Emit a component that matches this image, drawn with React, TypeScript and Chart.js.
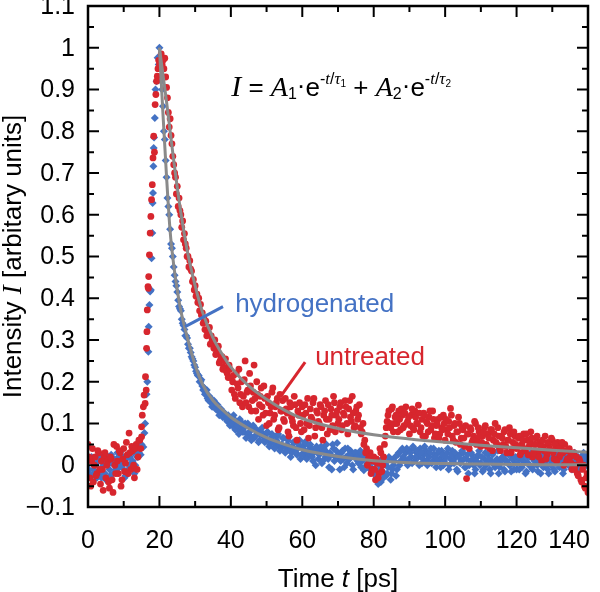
import React, { useEffect, useRef } from "react";
import { Chart, registerables } from "chart.js";
Chart.register(...registerables);

// ---------- data ----------
const STEP = 0.5; // spacing inside each sampled block [ps]

const X_TICKS = [0, 20, 40, 60, 80, 100, 120, 140];
const X_MINOR = [10, 30, 50, 70, 90, 110, 130];
const Y_TICKS = [-0.1, 0, 0.1, 0.2, 0.3, 0.4, 0.5, 0.6, 0.7, 0.8, 0.9, 1, 1.1];
const Y_LABELS = ["−0.1", "0", "0.1", "0.2", "0.3", "0.4", "0.5", "0.6", "0.7", "0.8", "0.9", "1", "1.1"];
const Y_MINOR = [-0.05, 0.05, 0.15, 0.25, 0.35, 0.45, 0.55, 0.65, 0.75, 0.85, 0.95, 1.05];

// ===== hydrogenated (blue) =====
const blueBaseStart = 0;
const blueBase = [
  0.01, -0.02, 0.02, -0.01, 0.0, -0.03, 0.01, -0.02, 0.015, 0.02,
  -0.035, 0.0, -0.01, 0.025, -0.02, 0.005, -0.015, 0.02, 0.03, -0.005,
  0.01, -0.025, 0.025, 0.0, 0.03, 0.01, -0.02, 0.035, 0.02, 0.04,
  0.05,
];
const blueBaseBStart = 0.25;
const blueBaseB = [
  -0.01, 0.015, -0.025, 0.005, 0.02, -0.015, 0.025, -0.03, 0.0, -0.02,
  0.01, 0.02, -0.025, 0.005, 0.015, -0.01, 0.03, -0.005, 0.0, 0.02,
  -0.03, 0.015, -0.01, 0.02, 0.005, 0.03, 0.0, 0.02, 0.03, 0.025,
];
const blueRiseT = [15.5, 15.8, 16.0, 16.4, 16.6, 16.9, 17.0, 17.2, 17.4, 17.6, 17.8, 18.0, 18.1, 18.2, 18.3, 18.4, 18.5, 18.7, 18.9, 19.2, 19.5, 19.8, 20.0];
const blueRiseI = [0.044, 0.077, 0.1, 0.17, 0.2, 0.272, 0.332, 0.384, 0.416, 0.42, 0.496, 0.556, 0.628, 0.652, 0.716, 0.76, 0.785, 0.832, 0.9, 0.92, 0.976, 0.96, 1.0];
const blueDecayStart = 20.5;
const blueDecay = [
  0.92, 0.86, 0.78, 0.69, 0.62, 0.565, 0.52, 0.475, 0.44, 0.415,
  0.38, 0.37, 0.34, 0.325, 0.31, 0.29, 0.28, 0.26, 0.25, 0.235,
  0.22, 0.215, 0.2, 0.19, 0.185, 0.175, 0.16, 0.165, 0.15, 0.145,
  0.15, 0.135, 0.13, 0.125, 0.13, 0.12, 0.115, 0.105, 0.11, 0.1,
];
const blueDecayBStart = 20.75;
const blueDecayB = [
  0.9, 0.8, 0.73, 0.64, 0.6, 0.53, 0.5, 0.455, 0.43, 0.395,
  0.375, 0.35, 0.335, 0.31, 0.305, 0.28, 0.27, 0.255, 0.24, 0.225,
  0.215, 0.2, 0.205, 0.18, 0.17, 0.18, 0.155, 0.16, 0.14, 0.155,
  0.135, 0.145, 0.12, 0.135, 0.115, 0.125, 0.11, 0.12, 0.095,
];
const blueTail1Start = 40.5;
const blueTail1 = [
  0.115, 0.09, 0.105, 0.085, 0.11, 0.09, 0.08, 0.1, 0.075, 0.095, 0.07, 0.09, 0.065, 0.085, 0.075, 0.06, 0.08, 0.07, 0.055, 0.075,
  0.06, 0.05, 0.075, 0.055, 0.045, 0.07, 0.05, 0.04, 0.065, 0.045, 0.035, 0.06, 0.04, 0.03, 0.055, 0.035, 0.025, 0.05, 0.015, 0.045,
  0.03, 0.02, 0.05, 0.025, 0.04, 0.01, 0.035, 0.045, 0.015, 0.03, 0.005, 0.04, 0.02, 0.03, -0.005, 0.025, 0.05, 0.01, 0.035, 0.02,
  -0.01, 0.03, 0.015, 0.04, 0.005, 0.025, 0.035, 0.0, 0.02, 0.03, 0.01, 0.025, -0.005, 0.02, 0.03, 0.0, 0.015, -0.01, 0.02, -0.02,
];
const blueTail1BStart = 40.25;
const blueTail1B = [
  0.1, 0.12, 0.085, 0.095, 0.075, 0.105, 0.08, 0.09, 0.065, 0.1, 0.08, 0.06, 0.095, 0.07, 0.085, 0.055, 0.075, 0.09, 0.06, 0.065,
  0.08, 0.045, 0.065, 0.07, 0.04, 0.06, 0.075, 0.035, 0.05, 0.065, 0.03, 0.05, 0.068, 0.02, 0.045, 0.055, 0.03, 0.04, 0.06, 0.025,
  0.04, 0.055, 0.015, 0.035, 0.05, 0.02, 0.03, 0.0, 0.04, 0.025, 0.045, 0.01, 0.035, 0.05, 0.015, 0.03, -0.01, 0.04, 0.02, 0.053,
  0.025, 0.01, 0.035, -0.005, 0.02, 0.04, 0.015, 0.025, -0.01, 0.03, 0.02, 0.005, 0.035, 0.01, -0.012, 0.025, 0.005, 0.02, -0.005, 0.01,
];
const blueTail2Start = 80.5;
const blueTail2 = [
  0.005, -0.03, 0.0, -0.04, -0.015, 0.01, -0.025, -0.005, 0.015, -0.02, 0.0, 0.02, -0.01, 0.03, 0.01, 0.04, 0.015, 0.03, 0.0, 0.035,
  0.02, 0.045, 0.01, 0.03, 0.02, 0.04, 0.005, 0.025, 0.035, 0.0, 0.02, 0.04, 0.01, 0.025, -0.005, 0.03, 0.015, 0.035, 0.0, 0.02,
  0.03, -0.01, 0.015, 0.035, 0.005, 0.02, -0.015, 0.025, 0.01, 0.03, -0.005, 0.015, -0.02, 0.01, 0.025, 0.0, -0.01, 0.02, 0.035, 0.005,
  -0.015, 0.015, 0.0, 0.025, -0.01, 0.01, 0.03, -0.005, 0.015, -0.02, 0.005, 0.02, -0.01, 0.01, 0.03, 0.0, -0.015, 0.02, 0.005, -0.01,
  0.015, 0.025, -0.005, 0.01, -0.02, 0.02, 0.0, 0.03, -0.01, 0.01, 0.02, -0.015, 0.005, 0.025, -0.005, 0.015, 0.0, -0.02, 0.01, 0.02,
  -0.01, 0.005, 0.025, -0.005, 0.015, -0.02, 0.01, 0.02, 0.0, 0.015, -0.01, 0.025, 0.005, 0.015, -0.005, 0.02, 0.01, 0.025, 0.0, 0.015,
];
const blueTail2BStart = 80.25;
const blueTail2B = [
  -0.02, 0.01, -0.045, -0.01, 0.015, -0.03, 0.005, -0.02, 0.02, -0.035, -0.01, 0.01, -0.025, 0.025, 0.0, 0.035, 0.02, 0.01, 0.04, 0.015,
  0.03, 0.005, 0.04, 0.02, 0.035, 0.0, 0.03, 0.015, 0.045, 0.01, 0.025, 0.03, 0.005, 0.04, 0.02, 0.01, 0.035, -0.005, 0.025, 0.01,
  0.02, 0.04, 0.0, 0.025, 0.01, 0.03, -0.01, 0.02, 0.005, 0.035, 0.015, -0.005, 0.025, 0.0, 0.03, 0.015, -0.02, 0.01, 0.025, 0.0,
  0.02, -0.01, 0.03, 0.005, 0.015, -0.02, 0.025, 0.0, 0.01, 0.035, -0.005, 0.015, 0.02, -0.015, 0.01, 0.025, 0.0, 0.015, -0.01, 0.02,
  0.005, -0.01, 0.02, 0.01, 0.03, -0.015, 0.005, 0.02, -0.005, 0.015, 0.025, 0.0, 0.01, -0.02, 0.02, 0.005, 0.03, -0.01, 0.015, 0.0,
  0.02, -0.015, 0.01, 0.03, 0.0, 0.015, -0.01, 0.025, 0.005, 0.02, -0.005, 0.01, 0.03, 0.0, 0.02, -0.01, 0.015, 0.03, 0.005, 0.02,
];

// ===== untreated (red) =====
const redBaseStart = 0;
const redBase = [
  0.05, -0.03, 0.01, -0.04, 0.02, -0.02, 0.03, -0.045, -0.01, 0.02,
  -0.03, 0.01, -0.055, 0.015, -0.065, 0.0, 0.045, -0.02, 0.03, -0.035,
  0.04, 0.005, 0.025, 0.077, -0.01, 0.035, -0.03, 0.05, 0.02, 0.06,
  0.068,
];
const redBaseBStart = 0.25;
const redBaseB = [
  0.02, -0.05, 0.04, 0.0, -0.025, 0.035, -0.01, 0.01, -0.06, 0.03,
  0.0, -0.04, 0.02, -0.035, 0.05, -0.02, 0.01, 0.035, -0.05, 0.015,
  -0.015, 0.055, -0.02, 0.03, 0.045, 0.0, 0.04, -0.01, 0.06, 0.04,
];
const redRiseT = [15.0, 15.2, 15.5, 15.7, 16.0, 16.1, 16.3, 16.4, 16.5, 16.6, 16.8, 16.9, 17.0, 17.2, 17.4, 17.6, 17.8, 18.0, 18.2, 18.4, 18.6, 18.8, 19.0, 19.2, 19.4, 19.6, 19.8, 20.0];
const redRiseI = [0.092, 0.12, 0.14, 0.168, 0.148, 0.212, 0.18, 0.28, 0.32, 0.372, 0.428, 0.424, 0.452, 0.504, 0.556, 0.596, 0.636, 0.672, 0.736, 0.788, 0.75, 0.864, 0.888, 0.92, 0.932, 0.95, 0.97, 0.96];
const redDecayStart = 20.5;
const redDecay = [
  0.985, 0.97, 0.975, 0.905, 0.845, 0.83, 0.77, 0.72, 0.69, 0.668,
  0.64, 0.6, 0.585, 0.555, 0.52, 0.5, 0.49, 0.465, 0.445, 0.43,
  0.41, 0.4, 0.385, 0.365, 0.35, 0.345, 0.32, 0.33, 0.31, 0.29,
  0.3, 0.27, 0.285, 0.25, 0.26, 0.235, 0.255, 0.22, 0.24, 0.21,
];
const redDecayBStart = 20.75;
const redDecayB = [
  0.96, 0.95, 0.93, 0.88, 0.81, 0.79, 0.74, 0.7, 0.65, 0.62,
  0.61, 0.57, 0.54, 0.53, 0.5, 0.475, 0.47, 0.44, 0.42, 0.405,
  0.39, 0.37, 0.36, 0.34, 0.325, 0.31, 0.315, 0.29, 0.3, 0.28,
  0.265, 0.275, 0.245, 0.26, 0.23, 0.25, 0.225, 0.21, 0.23,
];
const redTail1Start = 40.5;
const redTail1 = [
  0.2, 0.17, 0.22, 0.185, 0.15, 0.2, 0.165, 0.25, 0.175, 0.14, 0.19, 0.155, 0.24, 0.13, 0.17, 0.145, 0.185, 0.12, 0.16, 0.095,
  0.15, 0.125, 0.175, 0.11, 0.14, 0.16, 0.09, 0.13, 0.155, 0.105, 0.135, 0.08, 0.15, 0.115, 0.095, 0.145, 0.06, 0.12, 0.1, 0.14,
  0.085, 0.125, 0.16, 0.095, 0.115, 0.15, 0.07, 0.13, 0.105, 0.145, 0.09, 0.12, 0.155, 0.075, 0.11, 0.135, 0.095, 0.15, 0.12, 0.1,
  0.14, 0.085, 0.125, 0.155, 0.1, 0.135, 0.115, 0.165, 0.09, 0.13, 0.11, 0.145, 0.075, 0.1, 0.06, 0.04, 0.015, 0.03, -0.01, 0.02,
];
const redTail1BStart = 40.25;
const redTail1B = [
  0.18, 0.215, 0.16, 0.195, 0.23, 0.17, 0.14, 0.205, 0.15, 0.18, 0.22, 0.13, 0.175, 0.16, 0.2, 0.11, 0.165, 0.14, 0.19, 0.125,
  0.165, 0.1, 0.14, 0.185, 0.12, 0.15, 0.085, 0.17, 0.13, 0.11, 0.16, 0.125, 0.07, 0.14, 0.105, 0.165, 0.09, 0.13, 0.15, 0.08,
  0.12, 0.145, 0.1, 0.065, 0.135, 0.11, 0.16, 0.09, 0.125, 0.1, 0.14, 0.06, 0.13, 0.11, 0.145, 0.085, 0.12, 0.165, 0.08, 0.13,
  0.11, 0.15, 0.095, 0.12, 0.14, 0.075, 0.155, 0.105, 0.125, 0.095, 0.14, 0.12, 0.09, 0.08, 0.05, 0.03, 0.0, 0.02, -0.02, 0.01,
];
const redTail2Start = 80.5;
const redTail2 = [
  -0.035, 0.005, -0.02, 0.03, 0.0, 0.05, 0.09, 0.12, 0.1, 0.135, 0.08, 0.115, 0.1, 0.13, 0.085, 0.12, 0.095, 0.14, 0.105, 0.075,
  0.12, 0.09, 0.13, 0.1, 0.144, 0.08, 0.11, 0.125, 0.07, 0.1, 0.115, 0.085, 0.13, 0.065, 0.095, 0.11, 0.075, 0.09, 0.12, 0.06,
  0.085, 0.105, 0.136, 0.07, 0.095, 0.055, 0.08, 0.1, 0.065, 0.085, 0.045, -0.032, 0.075, 0.09, 0.055, 0.07, 0.1, 0.06, 0.08, 0.045,
  0.07, 0.09, 0.05, 0.075, 0.04, 0.085, 0.06, 0.1, 0.05, 0.07, 0.035, 0.065, 0.08, 0.045, 0.06, 0.09, 0.03, 0.055, 0.07, 0.04,
  0.065, 0.025, 0.05, 0.075, 0.035, 0.06, 0.045, 0.08, 0.02, 0.05, 0.065, 0.03, 0.055, 0.01, 0.045, 0.07, 0.025, 0.05, 0.035, 0.06,
  0.015, 0.04, 0.055, 0.02, 0.045, 0.03, 0.05, 0.01, 0.035, 0.02, -0.01, 0.03, 0.0, -0.02, 0.015, -0.035, -0.01, -0.05, -0.03, -0.065,
];
const redTail2BStart = 80.25;
const redTail2B = [
  -0.01, 0.015, -0.03, 0.04, -0.015, 0.02, 0.07, 0.105, 0.13, 0.09, 0.14, 0.1, 0.12, 0.08, 0.11, 0.135, 0.09, 0.125, 0.1, 0.115,
  0.095, 0.135, 0.085, 0.115, 0.1, 0.125, 0.09, 0.07, 0.12, 0.105, 0.08, 0.13, 0.095, 0.11, 0.075, 0.1, 0.065, 0.115, 0.085, 0.1,
  0.11, 0.075, 0.09, 0.12, 0.06, 0.1, 0.08, 0.115, 0.05, 0.09, 0.065, 0.095, 0.075, 0.04, 0.085, 0.06, 0.105, 0.05, 0.09, 0.07,
  0.055, 0.08, 0.095, 0.045, 0.065, 0.085, 0.035, 0.075, 0.055, 0.09, 0.04, 0.07, 0.05, 0.085, 0.03, 0.06, 0.075, 0.04, 0.08, 0.05,
  0.045, 0.07, 0.03, 0.06, 0.04, 0.075, 0.025, 0.055, 0.065, 0.03, 0.05, 0.07, 0.02, 0.045, 0.06, 0.035, 0.015, 0.055, 0.04, 0.065,
  0.03, 0.05, 0.01, 0.04, 0.025, 0.055, 0.0, 0.035, 0.015, 0.04, 0.005, 0.025, -0.01, 0.02, -0.025, 0.01, -0.04, 0.0, -0.055, -0.02,
];

// bi-exponential fits (grey)
const fitT = [20, 21, 22, 23, 24, 25, 26, 28, 30, 32, 35, 38, 40, 45, 50, 55, 60, 70, 80, 90, 100, 110, 120, 130, 140];
const blueFit = [1.0, 0.84, 0.69, 0.56, 0.48, 0.42, 0.37, 0.3, 0.24, 0.195, 0.155, 0.13, 0.115, 0.088, 0.066, 0.05, 0.037, 0.021, 0.011, 0.006, 0.004, 0.003, 0.002, 0.001, 0.001];
const redFit = [1.0, 0.935, 0.87, 0.8, 0.73, 0.665, 0.605, 0.505, 0.43, 0.368, 0.305, 0.26, 0.235, 0.19, 0.158, 0.132, 0.112, 0.088, 0.073, 0.063, 0.055, 0.048, 0.042, 0.036, 0.031];

// ---------- styling ----------
const RED = "#D7262E";
const BLUE = "#4472C4";
const GREY = "#8A8A8A";
const SANS = '"Liberation Sans", Arial, Helvetica, sans-serif';
const SERIF = '"Liberation Serif", "Times New Roman", serif';

function seg(start: number, vals: number[]) {
  return vals.map((v, i) => ({ x: start + i * STEP, y: v }));
}
function pairs(ts: number[], vs: number[]) {
  return ts.map((t, i) => ({ x: t, y: vs[i] }));
}

type Run = { text: string; font: string; dy: number };

function runsWidth(ctx: CanvasRenderingContext2D, runs: Run[]) {
  let w = 0;
  for (const r of runs) {
    ctx.font = r.font;
    w += ctx.measureText(r.text).width;
  }
  return w;
}
function drawRuns(ctx: CanvasRenderingContext2D, runs: Run[], x: number, y: number) {
  let cx = x;
  for (const r of runs) {
    ctx.font = r.font;
    ctx.fillText(r.text, cx, y + r.dy);
    cx += ctx.measureText(r.text).width;
  }
}

const overlay = {
  id: "overlay",
  afterDatasetsDraw(chart: any) {
    const ctx: CanvasRenderingContext2D = chart.ctx;
    const { left, right, top, bottom } = chart.chartArea;
    const xs = chart.scales.x;
    const ys = chart.scales.y;
    ctx.save();
    ctx.strokeStyle = "#000";
    ctx.fillStyle = "#000";
    ctx.lineCap = "butt";

    // ticks (inward, on all four sides)
    ctx.lineWidth = 2;
    const MAJ = 11, MIN = 6;
    ctx.beginPath();
    for (const v of X_TICKS) {
      const p = xs.getPixelForValue(v);
      ctx.moveTo(p, bottom); ctx.lineTo(p, bottom - MAJ);
      ctx.moveTo(p, top); ctx.lineTo(p, top + MAJ);
    }
    for (const v of X_MINOR) {
      const p = xs.getPixelForValue(v);
      ctx.moveTo(p, bottom); ctx.lineTo(p, bottom - MIN);
      ctx.moveTo(p, top); ctx.lineTo(p, top + MIN);
    }
    for (const v of Y_TICKS) {
      const p = ys.getPixelForValue(v);
      ctx.moveTo(left, p); ctx.lineTo(left + MAJ, p);
      ctx.moveTo(right, p); ctx.lineTo(right - MAJ, p);
    }
    for (const v of Y_MINOR) {
      const p = ys.getPixelForValue(v);
      ctx.moveTo(left, p); ctx.lineTo(left + MIN, p);
      ctx.moveTo(right, p); ctx.lineTo(right - MIN, p);
    }
    ctx.stroke();

    // frame
    ctx.lineWidth = 2.5;
    ctx.strokeRect(left, top, right - left, bottom - top);

    // tick labels
    ctx.font = `25px ${SANS}`;
    ctx.textBaseline = "alphabetic";
    ctx.textAlign = "left";
    const W = chart.width;
    X_TICKS.forEach((v) => {
      const label = String(v);
      const w = ctx.measureText(label).width;
      let cx = xs.getPixelForValue(v);
      cx = Math.min(cx, W - 10 - w / 2);
      ctx.fillText(label, cx - w / 2, bottom + 41);
    });
    ctx.textAlign = "right";
    ctx.textBaseline = "middle";
    Y_TICKS.forEach((v, i) => {
      ctx.fillText(Y_LABELS[i], left - 13, ys.getPixelForValue(v) + 1);
    });

    // axis titles
    ctx.textAlign = "left";
    ctx.textBaseline = "alphabetic";
    const xTitle: Run[] = [
      { text: "Time ", font: `26px ${SANS}`, dy: 0 },
      { text: "t", font: `italic 26px ${SANS}`, dy: 0 },
      { text: " [ps]", font: `26px ${SANS}`, dy: 0 },
    ];
    const xw = runsWidth(ctx, xTitle);
    drawRuns(ctx, xTitle, (left + right) / 2 - xw / 2, bottom + 80);

    const yTitle: Run[] = [
      { text: "Intensity ", font: `26px ${SANS}`, dy: 0 },
      { text: "I", font: `italic 27px ${SERIF}`, dy: 0 },
      { text: " [arbitary units]", font: `26px ${SANS}`, dy: 0 },
    ];
    const yw = runsWidth(ctx, yTitle);
    ctx.save();
    ctx.translate(21, (top + bottom) / 2);
    ctx.rotate(-Math.PI / 2);
    drawRuns(ctx, yTitle, -yw / 2, 0);
    ctx.restore();

    // formula
    const big = `26px ${SANS}`;
    const ital = `italic 30px ${SERIF}`;
    const italA = `italic 28px ${SERIF}`;
    const sub = `16px ${SANS}`;
    const sup = `16px ${SANS}`;
    const supI = `italic 17px ${SERIF}`;
    const tiny = `10px ${SANS}`;
    const expo = (n: string): Run[] => [
      { text: "e", font: big, dy: 0 },
      { text: "-", font: sup, dy: -12 },
      { text: "t", font: supI, dy: -12 },
      { text: "/", font: sup, dy: -12 },
      { text: "τ", font: supI, dy: -12 },
      { text: n, font: tiny, dy: -9 },
    ];
    const formula: Run[] = [
      { text: "I", font: ital, dy: 0 },
      { text: " = ", font: big, dy: 0 },
      { text: "A", font: italA, dy: 0 },
      { text: "1", font: sub, dy: 3 },
      { text: "·", font: big, dy: -2 },
      ...expo("1"),
      { text: " + ", font: big, dy: 0 },
      { text: "A", font: italA, dy: 0 },
      { text: "2", font: sub, dy: 3 },
      { text: "·", font: big, dy: -2 },
      ...expo("2"),
    ];
    drawRuns(ctx, formula, xs.getPixelForValue(40.1), ys.getPixelForValue(0.884));

    // annotations with pointer lines
    ctx.lineWidth = 3;
    ctx.strokeStyle = BLUE;
    ctx.beginPath();
    ctx.moveTo(xs.getPixelForValue(27.2), ys.getPixelForValue(0.332));
    ctx.lineTo(xs.getPixelForValue(37.8), ys.getPixelForValue(0.38));
    ctx.stroke();
    ctx.fillStyle = BLUE;
    ctx.font = `26px ${SANS}`;
    ctx.fillText("hydrogenated", xs.getPixelForValue(41.2), ys.getPixelForValue(0.367));

    ctx.strokeStyle = RED;
    ctx.beginPath();
    ctx.moveTo(xs.getPixelForValue(53.8), ys.getPixelForValue(0.163));
    ctx.lineTo(xs.getPixelForValue(60.8), ys.getPixelForValue(0.247));
    ctx.stroke();
    ctx.fillStyle = RED;
    ctx.fillText("untreated", xs.getPixelForValue(63.6), ys.getPixelForValue(0.24));

    ctx.restore();
  },
};

export default function App() {
  const ref = useRef<HTMLCanvasElement | null>(null);
  useEffect(() => {
    if (!ref.current) return;
    const blueData = [
      ...seg(blueBaseStart, blueBase),
      ...seg(blueBaseBStart, blueBaseB),
      ...pairs(blueRiseT, blueRiseI),
      ...seg(blueDecayStart, blueDecay),
      ...seg(blueDecayBStart, blueDecayB),
      ...seg(blueTail1Start, blueTail1),
      ...seg(blueTail1BStart, blueTail1B),
      ...seg(blueTail2Start, blueTail2),
      ...seg(blueTail2BStart, blueTail2B),
    ];
    const redData = [
      ...seg(redBaseStart, redBase),
      ...seg(redBaseBStart, redBaseB),
      ...pairs(redRiseT, redRiseI),
      ...seg(redDecayStart, redDecay),
      ...seg(redDecayBStart, redDecayB),
      ...seg(redTail1Start, redTail1),
      ...seg(redTail1BStart, redTail1B),
      ...seg(redTail2Start, redTail2),
      ...seg(redTail2BStart, redTail2B),
    ];
    const chart = new Chart(ref.current, {
      type: "scatter",
      data: {
        datasets: [
          {
            label: "fit hydrogenated",
            data: pairs(fitT, blueFit),
            showLine: true,
            borderColor: GREY,
            borderWidth: 3,
            pointRadius: 0,
            cubicInterpolationMode: "monotone",
            order: 0,
          } as any,
          {
            label: "fit untreated",
            data: pairs(fitT, redFit),
            showLine: true,
            borderColor: GREY,
            borderWidth: 3,
            pointRadius: 0,
            cubicInterpolationMode: "monotone",
            order: 0,
          } as any,
          {
            label: "untreated",
            data: redData,
            pointStyle: "circle",
            pointRadius: 3.4,
            pointBorderWidth: 0,
            pointBackgroundColor: RED,
            backgroundColor: RED,
            borderColor: RED,
            order: 1,
          },
          {
            label: "hydrogenated",
            data: blueData,
            pointStyle: "rectRot",
            pointRadius: 4,
            pointBorderWidth: 0,
            pointBackgroundColor: BLUE,
            backgroundColor: BLUE,
            borderColor: BLUE,
            order: 2,
          },
        ],
      },
      options: {
        animation: false,
        responsive: false,
        maintainAspectRatio: false,
        devicePixelRatio: 1,
        layout: { padding: { left: 88, right: 12, top: 6, bottom: 85 } },
        plugins: { legend: { display: false }, tooltip: { enabled: false } },
        scales: {
          x: { type: "linear", min: 0, max: 140, display: false },
          y: { type: "linear", min: -0.1, max: 1.1, display: false },
        },
      },
      plugins: [overlay],
    });
    return () => chart.destroy();
  }, []);
  return (
    <div style={{ position: "absolute", left: 0, top: 0, width: 600, height: 592, background: "#fff" }}>
      <canvas ref={ref} width={600} height={592} style={{ width: 600, height: 592, display: "block" }} />
    </div>
  );
}
